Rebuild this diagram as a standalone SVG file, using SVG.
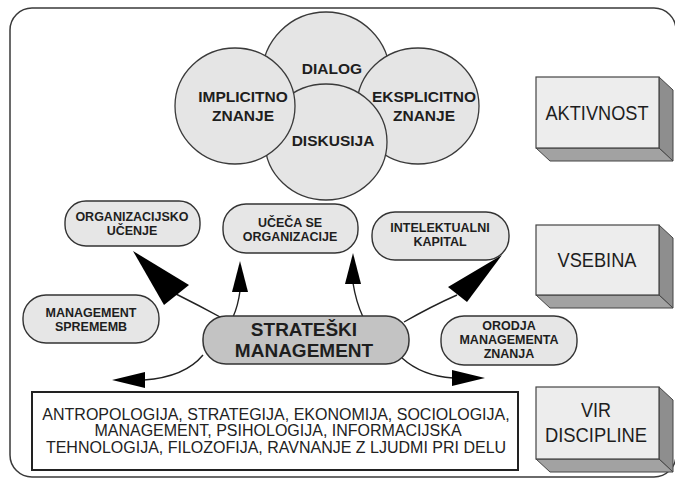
<svg xmlns="http://www.w3.org/2000/svg" width="675" height="479" viewBox="0 0 675 479">
  <style>
    .frame{fill:#ffffff;stroke:#3a3a3a;stroke-width:1.5}
    .circle{fill:#e5e5e5;stroke:#3a3a3a;stroke-width:1.3}
    .pill{fill:#e6e6e6;stroke:#333333;stroke-width:1.4}
    .pill-main{fill:#c3c3c3;stroke:#333333;stroke-width:1.5}
    .list{fill:#ffffff;stroke:#222222;stroke-width:2}
    .front{fill:#ededed;stroke:#444444;stroke-width:1.2}
    .side{fill:#8e8e8e;stroke:#444444;stroke-width:1}
    .bottom{fill:#a2a2a2;stroke:#444444;stroke-width:1}
    .line{fill:none;stroke:#222222;stroke-width:1.4}
    .head{fill:#000000}
    text{font-family:"Liberation Sans",Arial,Helvetica,sans-serif;fill:#1e1e1e;text-anchor:middle}
    .tc{font-size:15.5px;font-weight:bold}
    .tn{font-size:12.5px;font-weight:bold}
    .tm{font-size:19px;font-weight:bold}
    .tb{font-size:20px}
    .tl{font-size:16px;fill:#222222}
  </style>

  <!-- outer frame -->
  <rect class="frame" x="10" y="8" width="666" height="469" rx="22"/>

  <!-- knowledge circles (back to front) -->
  <g id="dialog">
    <circle class="circle" cx="326" cy="76" r="64"/>
  </g>
  <g id="eksplicitno">
    <ellipse class="circle" cx="418" cy="106" rx="61" ry="58"/>
  </g>
  <g id="diskusija">
    <ellipse class="circle" cx="326" cy="142" rx="61" ry="58"/>
  </g>
  <g id="implicitno">
    <ellipse class="circle" cx="235" cy="106" rx="60" ry="58"/>
  </g>
  <g id="circle-labels">
    <text class="tc" x="332" y="74">DIALOG</text>
    <text class="tc" x="243" y="102">IMPLICITNO</text>
    <text class="tc" x="243" y="121">ZNANJE</text>
    <text class="tc" x="424" y="102">EKSPLICITNO</text>
    <text class="tc" x="424" y="121">ZNANJE</text>
    <text class="tc" x="333" y="146">DISKUSIJA</text>
  </g>

  <!-- connectors from the central node -->
  <g id="connectors">
    <path class="line" d="M176,294 Q200,306 222,318"/>
    <polygon class="head" points="133,251 164,305 189,285"/>
    <path class="line" d="M240,291 Q238,306 233,317"/>
    <polygon class="head" points="240,261 232,292 248,292"/>
    <path class="line" d="M353,283 Q356,302 363,317"/>
    <polygon class="head" points="353,253 345,284 361,284"/>
    <path class="line" d="M457,295 Q432,306 404,322"/>
    <polygon class="head" points="502,255 448,287 467,302"/>
    <path class="line" d="M203,355 Q185,377 144,380"/>
    <polygon class="head" points="112,380 145,372 145,388"/>
    <path class="line" d="M402,358 Q422,376 453,378"/>
    <polygon class="head" points="485,378 452,370 452,386"/>
  </g>

  <!-- topic nodes -->
  <g id="organizacijsko-ucenje">
    <rect class="pill" x="65" y="201" width="135" height="45" rx="21"/>
    <text class="tn" x="132" y="221">ORGANIZACIJSKO</text>
    <text class="tn" x="132" y="235">UČENJE</text>
  </g>
  <g id="uceca-se-organizacije">
    <rect class="pill" x="223" y="204" width="135" height="49" rx="23"/>
    <text class="tn" x="290" y="227">UČEČA SE</text>
    <text class="tn" x="290" y="241">ORGANIZACIJE</text>
  </g>
  <g id="intelektualni-kapital">
    <rect class="pill" x="372" y="212" width="137" height="48" rx="23"/>
    <text class="tn" x="440" y="232">INTELEKTUALNI</text>
    <text class="tn" x="440" y="246">KAPITAL</text>
  </g>
  <g id="management-sprememb">
    <rect class="pill" x="23" y="295" width="136" height="48" rx="23"/>
    <text class="tn" x="91" y="317">MANAGEMENT</text>
    <text class="tn" x="91" y="331">SPREMEMB</text>
  </g>
  <g id="orodja-managementa-znanja">
    <rect class="pill" x="441" y="316" width="136" height="49" rx="23"/>
    <text class="tn" x="509" y="330">ORODJA</text>
    <text class="tn" x="509" y="344">MANAGEMENTA</text>
    <text class="tn" x="509" y="358">ZNANJA</text>
  </g>
  <g id="strateski-management">
    <rect class="pill-main" x="203" y="316" width="206" height="48" rx="23"/>
    <text class="tm" x="304" y="336">STRATEŠKI</text>
    <text class="tm" x="304" y="357">MANAGEMENT</text>
  </g>

  <!-- disciplines list -->
  <g id="discipline-list">
    <rect class="list" x="32" y="392" width="486" height="78"/>
    <text class="tl" x="276" y="420">ANTROPOLOGIJA, STRATEGIJA, EKONOMIJA, SOCIOLOGIJA,</text>
    <text class="tl" x="278" y="436">MANAGEMENT, PSIHOLOGIJA, INFORMACIJSKA</text>
    <text class="tl" x="276" y="453">TEHNOLOGIJA, FILOZOFIJA, RAVNANJE Z LJUDMI PRI DELU</text>
  </g>

  <!-- level boxes on the right -->
  <g id="aktivnost">
    <polygon class="side" points="659,77 673,90 673,161 659,148"/>
    <polygon class="bottom" points="536,148 659,148 673,161 550,161"/>
    <rect class="front" x="536" y="77" width="123" height="71"/>
    <text class="tb" x="597" y="120" textLength="103" lengthAdjust="spacingAndGlyphs">AKTIVNOST</text>
  </g>
  <g id="vsebina">
    <polygon class="side" points="659,225 673,238 673,308 659,295"/>
    <polygon class="bottom" points="536,295 659,295 673,308 550,308"/>
    <rect class="front" x="536" y="225" width="123" height="70"/>
    <text class="tb" x="597" y="267" textLength="79" lengthAdjust="spacingAndGlyphs">VSEBINA</text>
  </g>
  <g id="vir-discipline">
    <polygon class="side" points="659,387 673,400 673,472 659,459"/>
    <polygon class="bottom" points="536,459 659,459 673,472 550,472"/>
    <rect class="front" x="536" y="387" width="123" height="72"/>
    <text class="tb" x="596" y="417" textLength="30" lengthAdjust="spacingAndGlyphs">VIR</text>
    <text class="tb" x="596" y="442" textLength="102" lengthAdjust="spacingAndGlyphs">DISCIPLINE</text>
  </g>
</svg>
